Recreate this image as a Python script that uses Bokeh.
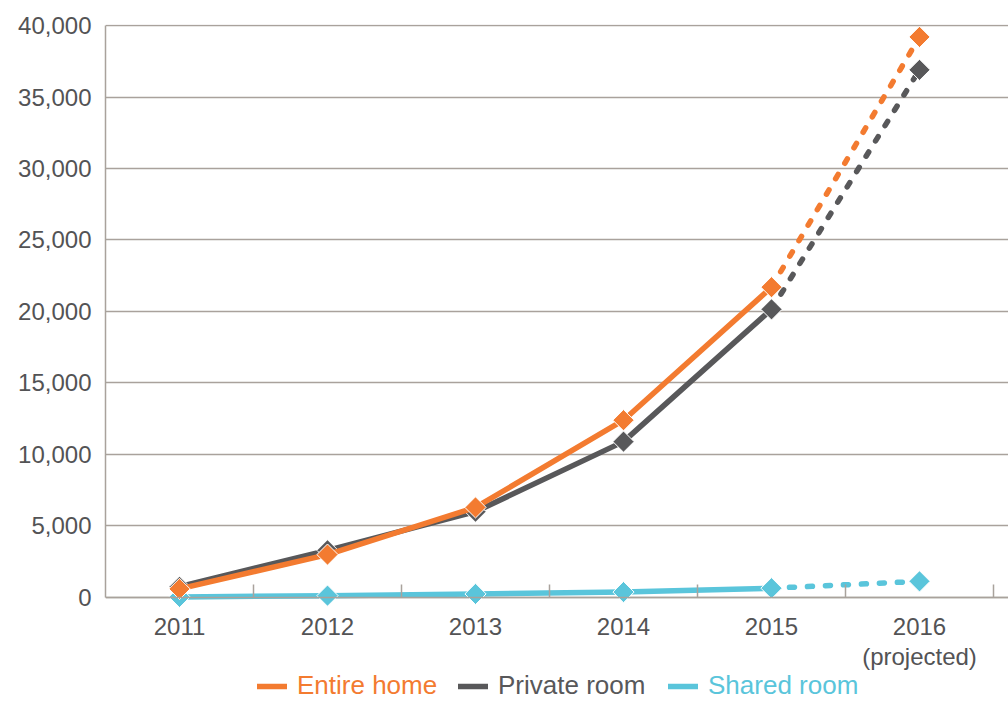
import numpy as np
from bokeh.plotting import figure
from bokeh.models import Range1d, FixedTicker, NumeralTickFormatter, Legend, LegendItem
from bokeh.embed import file_html
from bokeh.resources import INLINE

# ---- data ----
years = ["2011", "2012", "2013", "2014", "2015", "2016\n(projected)"]
entire_home = [600, 3000, 6300, 12400, 21700, 39200]
private_room = [750, 3300, 6000, 10900, 20150, 36900]
shared_room = [40, 130, 250, 380, 650, 1130]
y_ticks = [0, 5000, 10000, 15000, 20000, 25000, 30000, 35000, 40000]

ORANGE = "#f37b30"
DARK = "#58585a"
CYAN = "#5ac5db"
GRID = "#a9a29c"
TEXT = "#535355"
FONT = "Liberation Sans"

x = list(range(1, len(years) + 1))

p = figure(width=1008, height=702, output_backend="svg", toolbar_location=None,
           x_range=Range1d(0.5, 0.5 + 903 / 148), y_range=Range1d(-7343, 40070),
           min_border_left=105, min_border_right=0, min_border_top=24, min_border_bottom=0)
p.outline_line_color = None
p.background_fill_color = "white"
p.border_fill_color = "white"

# grid
p.xgrid.grid_line_color = None
p.ygrid.ticker = FixedTicker(ticks=y_ticks)
p.ygrid.grid_line_color = GRID
p.ygrid.grid_line_width = 1.5

# y axis
yax = p.yaxis[0]
yax.ticker = FixedTicker(ticks=y_ticks)
yax.bounds = (0, 40000)
yax.formatter = NumeralTickFormatter(format="0,0")
yax.major_tick_in = 0
yax.major_tick_out = 0
yax.minor_tick_line_color = None
yax.axis_line_color = GRID
yax.axis_line_width = 1.5
yax.major_label_text_font = FONT
yax.major_label_text_font_size = "24px"
yax.major_label_text_color = TEXT
yax.major_label_standoff = 14

# x axis, drawn at y = 0 inside the frame
xax = p.xaxis[0]
xax.fixed_location = 0
xax.ticker = FixedTicker(ticks=x, minor_ticks=[i + 0.5 for i in x])
xax.major_label_overrides = {xi: lab for xi, lab in zip(x, years)}
xax.major_tick_in = 0
xax.major_tick_out = 0
xax.minor_tick_in = 13
xax.minor_tick_out = 0
xax.minor_tick_line_color = GRID
xax.minor_tick_line_width = 1.5
xax.axis_line_color = GRID
xax.axis_line_width = 1.5
xax.major_label_text_font = FONT
xax.major_label_text_font_size = "24px"
xax.major_label_text_color = TEXT
xax.major_label_text_line_height = 1.08
xax.major_label_standoff = 16


def series(vals, color):
    solid = p.line(x[:5], vals[:5], line_color=color, line_width=5.5,
                   line_cap="round", line_join="round")
    p.line(x[4:], vals[4:], line_color=color, line_width=5.5,
           line_cap="round", line_dash="5 13")
    p.scatter(x, vals, marker="square", angle=np.pi / 4, size=15,
              fill_color=color, line_color="white", line_width=1)
    return solid


r_shared = series(shared_room, CYAN)
r_private = series(private_room, DARK)
r_entire = series(entire_home, ORANGE)

for label, r, color, xloc in [("Entire home", r_entire, ORANGE, 152),
                              ("Private room", r_private, DARK, 353),
                              ("Shared room", r_shared, CYAN, 563)]:
    lg = Legend(items=[LegendItem(label=label, renderers=[r])], location=(xloc, 1),
                orientation="horizontal", label_text_color=color,
                label_text_font=FONT, label_text_font_size="26px",
                glyph_width=30, glyph_height=22, label_height=22, label_standoff=10,
                padding=0, margin=0, spacing=0,
                background_fill_alpha=0, border_line_color=None)
    p.add_layout(lg, "center")

open("out.html", "w").write(file_html(p, INLINE))
